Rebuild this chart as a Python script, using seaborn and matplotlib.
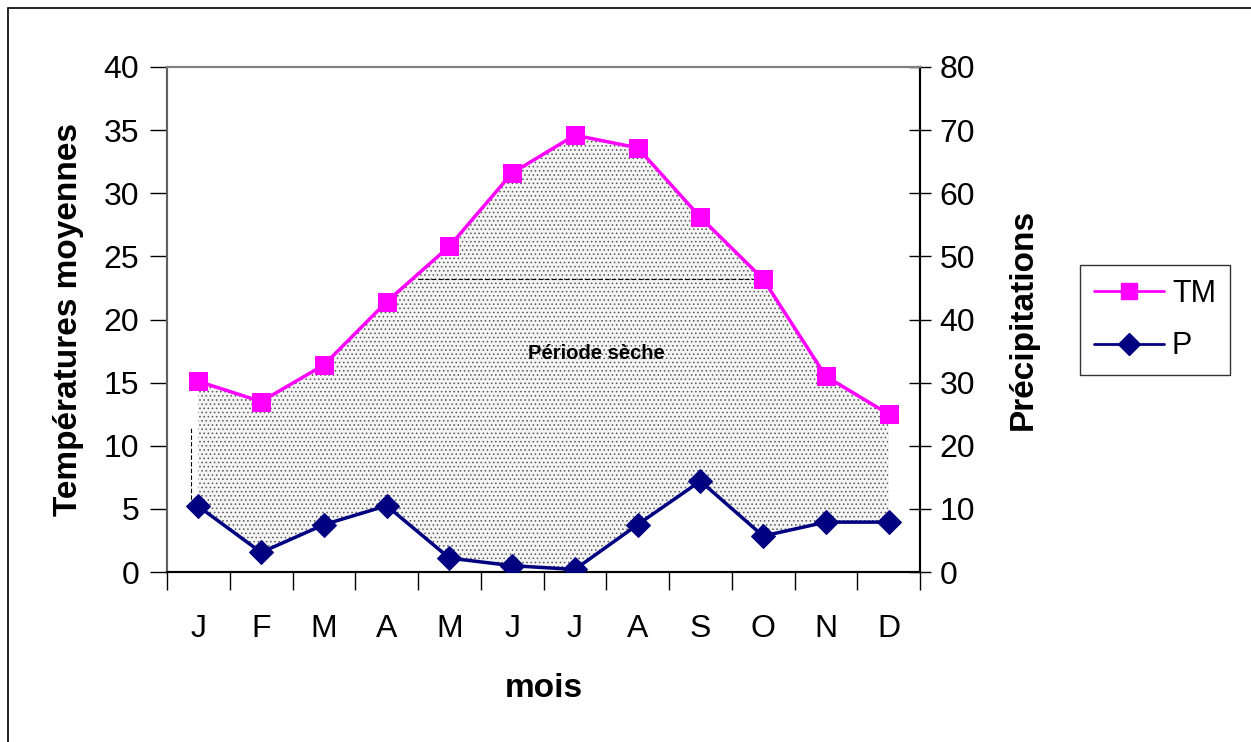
import numpy as np
import pandas as pd
import matplotlib
matplotlib.use("Agg")
import matplotlib.pyplot as plt
from matplotlib.patches import Rectangle
from matplotlib.lines import Line2D
import seaborn as sns

months = ["J", "F", "M", "A", "M", "J", "J", "A", "S", "O", "N", "D"]
tm = [15.1, 13.5, 16.4, 21.4, 25.8, 31.6, 34.6, 33.6, 28.1, 23.2, 15.5, 12.5]
precip = [10.4, 3.1, 7.5, 10.5, 2.2, 1.0, 0.4, 7.5, 14.4, 5.7, 7.9, 7.9]
dry_level = 23.2
dry_start, dry_end = 3.5, 9.0
wet_edge_top = 11.6

sns.set_theme(style="white")
plt.rcParams['font.family'] = ['Liberation Sans', 'DejaVu Sans']
for k in ("text.color", "axes.labelcolor", "xtick.color", "ytick.color"):
    plt.rcParams[k] = "black"
plt.rcParams['hatch.linewidth'] = 0.6

df = pd.DataFrame({"pos": np.arange(len(months)), "mois": months, "TM": tm, "P": precip})

fig = plt.figure(figsize=(12.51, 7.42), dpi=100)
ax = fig.add_axes([167 / 1251, 1 - 572 / 742, (920 - 167) / 1251, (572 - 67) / 742])
ax2 = ax.twinx()

# période sèche : zone entre TM et P (P sur une échelle double)
ax.fill_between(df["pos"], df["TM"], df["P"] / 2, facecolor="#f4f4f4",
                edgecolor="#555555", hatch="....", linewidth=0, zorder=1)

ax.plot([dry_start, dry_end], [dry_level, dry_level], ls=(0, (4, 2)), color="black", lw=0.8, zorder=2)
ax.plot([-0.12, -0.12], [df["P"][0] / 2, wet_edge_top], ls=(0, (4, 2)), color="black", lw=0.8, zorder=2)

sns.lineplot(data=df, x="pos", y="TM", ax=ax, color="#FF00FF", lw=2.5, marker="s",
             markersize=13, markeredgecolor="#FF00FF", zorder=4)
sns.lineplot(data=df, x="pos", y="P", ax=ax2, color="#000080", lw=2.5, marker="D",
             markersize=12, markeredgecolor="#000080", zorder=4)

ax.set_xlim(-0.5, len(months) - 0.5)
ax.set_ylim(0, 40)
ax2.set_ylim(0, 80)
ax.set_yticks(np.arange(0, 41, 5))
ax2.set_yticks(np.arange(0, 81, 10))
ax.set_xticks(df["pos"])
ax.set_xticklabels(months)
ax.set_xticks(np.arange(-0.5, len(months), 1), minor=True)
ax.tick_params(axis="x", which="major", length=0, pad=30, labelsize=23)
ax.tick_params(axis="x", which="minor", length=13, width=1, color="black", direction="out", bottom=True)
ax.tick_params(axis="y", length=12, width=1, color="black", direction="out", labelsize=23, pad=8, left=True)
ax2.tick_params(axis="y", length=16, width=1, color="black", direction="inout", labelsize=23, pad=6, right=True)

ax.set_xlabel("mois", fontsize=24, fontweight="bold")
ax.set_ylabel("Températures moyennes", fontsize=24, fontweight="bold")
ax2.set_ylabel("Précipitations", fontsize=24, fontweight="bold")
ax.xaxis.set_label_coords(0.5, -0.2)
ax.yaxis.set_label_coords(-0.11, 0.5)
ax2.yaxis.set_label_coords(1.117, 0.5)

for a in (ax, ax2):
    a.spines["top"].set_color("#808080")
    a.spines["left"].set_color("#606060")
    a.spines["bottom"].set_color("black")
    a.spines["right"].set_color("black")
    for s in a.spines.values():
        s.set_linewidth(1.5)
ax2.patch.set_alpha(0)

ax.text(6.35, 17.3, "Période sèche", fontsize=14.5, fontweight="bold",
        ha="center", va="center", zorder=5)

handles = [Line2D([], [], color="#FF00FF", lw=2, marker="s", markersize=11),
           Line2D([], [], color="#000080", lw=2, marker="D", markersize=11)]
leg = fig.legend(handles, ["TM", "P"], loc="center", bbox_to_anchor=(1155 / 1251, 1 - 320 / 742),
                 fontsize=22, frameon=True, fancybox=False, edgecolor="black",
                 handlelength=2.3, handletextpad=0.25, labelspacing=0.75, borderpad=0.45)
leg.get_frame().set_linewidth(1)

fig.patches.append(Rectangle((8 / 1251, -0.1), 1.2, 1.1 - 8 / 742, transform=fig.transFigure,
                             fill=False, edgecolor="black", lw=1.2))

fig.savefig("out.png", dpi=100)
